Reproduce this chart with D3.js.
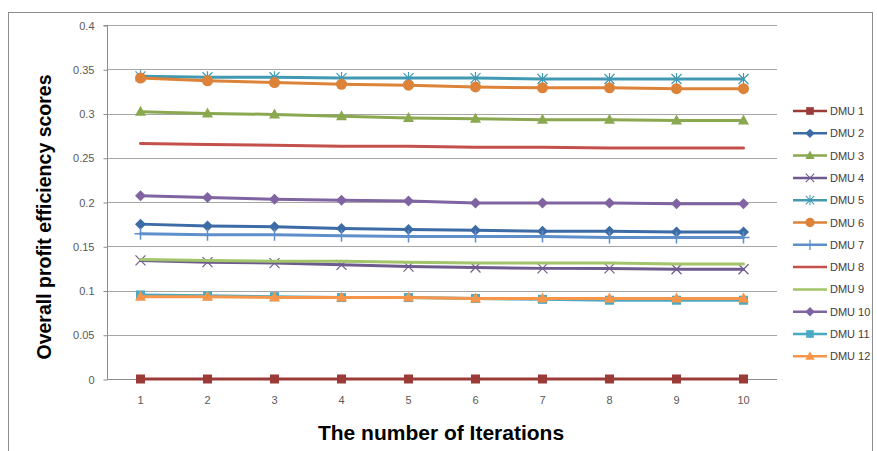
<!DOCTYPE html>
<html><head><meta charset="utf-8">
<script src="https://cdn.jsdelivr.net/npm/d3@7"></script>
<style>body{margin:0;background:#fff;}svg{display:block;}</style>
</head><body>
<svg id="c" width="877" height="451"></svg>
<script>
const iterations = [1,2,3,4,5,6,7,8,9,10];
const yTicks = [0,0.05,0.1,0.15,0.2,0.25,0.3,0.35,0.4];
const seriesNames = ["DMU 1","DMU 2","DMU 3","DMU 4","DMU 5","DMU 6","DMU 7","DMU 8","DMU 9","DMU 10","DMU 11","DMU 12"];
const dmu1  = [0,0,0,0,0,0,0,0,0,0];
const dmu2  = [0.175,0.173,0.172,0.170,0.169,0.168,0.167,0.167,0.166,0.166];
const dmu3  = [0.302,0.300,0.299,0.297,0.295,0.294,0.293,0.293,0.292,0.292];
const dmu4  = [0.134,0.132,0.131,0.129,0.127,0.126,0.125,0.125,0.124,0.124];
const dmu5  = [0.342,0.341,0.341,0.340,0.340,0.340,0.339,0.339,0.339,0.339];
const dmu6  = [0.340,0.337,0.335,0.333,0.332,0.330,0.329,0.329,0.328,0.328];
const dmu7  = [0.164,0.163,0.163,0.162,0.161,0.161,0.161,0.160,0.160,0.160];
const dmu8  = [0.266,0.265,0.264,0.263,0.263,0.262,0.262,0.261,0.261,0.261];
const dmu9  = [0.135,0.134,0.133,0.133,0.132,0.131,0.131,0.131,0.130,0.130];
const dmu10 = [0.207,0.205,0.203,0.202,0.201,0.199,0.199,0.199,0.198,0.198];
const dmu11 = [0.095,0.094,0.093,0.092,0.092,0.091,0.090,0.089,0.089,0.089];
const dmu12 = [0.093,0.093,0.092,0.092,0.092,0.091,0.091,0.091,0.091,0.091];
const allValues = [dmu1,dmu2,dmu3,dmu4,dmu5,dmu6,dmu7,dmu8,dmu9,dmu10,dmu11,dmu12];

const styles = [
  {color:"#9B3B38", marker:"square"},
  {color:"#3D6BA5", marker:"diamond"},
  {color:"#8AA84F", marker:"triangle"},
  {color:"#6F5A8E", marker:"x"},
  {color:"#4199B2", marker:"asterisk"},
  {color:"#DD8339", marker:"circle"},
  {color:"#5F8FCB", marker:"plus"},
  {color:"#C4504C", marker:"none"},
  {color:"#A2C46A", marker:"none"},
  {color:"#8064A2", marker:"diamond"},
  {color:"#4AAAC4", marker:"square"},
  {color:"#F7964A", marker:"triangle"}
];

const svg = d3.select("#c");
const L = 107, R = 777, T = 25, B = 379;
const x = d3.scaleBand().domain(iterations).range([L, R]);
const y = d3.scaleLinear().domain([0, 0.4]).range([B, T]);

// outer frame
svg.append("rect").attr("x",8.5).attr("y",12.5).attr("width",864).attr("height",460)
  .attr("fill","none").attr("stroke","#8C8C8C").attr("stroke-width",1);

// gridlines
svg.append("g").selectAll("line").data(yTicks.filter(d=>d>0)).join("line")
  .attr("x1",L).attr("x2",R).attr("y1",d=>Math.round(y(d))+0.5).attr("y2",d=>Math.round(y(d))+0.5)
  .attr("stroke","#A6A6A6").attr("stroke-width",1);

// y axis
const yAxis = d3.axisLeft(y).tickValues(yTicks).tickSize(4).tickPadding(9).tickFormat(d=>String(+d.toFixed(2)));
const gy = svg.append("g").attr("transform",`translate(${L+0.5},0.5)`).call(yAxis);
gy.select(".domain").attr("stroke","#8C8C8C").attr("d",`M-4,${y(0.4)}H0V${B}`);
gy.selectAll(".tick line").attr("stroke","#8C8C8C");
gy.selectAll("text").attr("fill","#595959").style("font-family","'Liberation Sans',Arial,sans-serif").style("font-size","11px");

// x axis
const xAxis = d3.axisBottom(x).tickSize(0).tickPadding(17);
const gx = svg.append("g").attr("transform",`translate(0,${B+0.5})`).call(xAxis);
gx.select(".domain").attr("stroke","#8C8C8C").attr("d",`M${L},0H${R}`);
gx.selectAll("text").attr("fill","#595959").style("font-family","'Liberation Sans',Arial,sans-serif").style("font-size","11px");

// axis titles
svg.append("text").attr("transform","translate(51,217) rotate(-90)")
  .attr("text-anchor","middle").style("font-family","'Liberation Sans',Arial,sans-serif")
  .style("font-weight","bold").style("font-size","19.5px").attr("fill","#000")
  .text("Overall profit efficiency scores");
svg.append("text").attr("x",441).attr("y",440).attr("text-anchor","middle")
  .style("font-family","'Liberation Sans',Arial,sans-serif").style("font-weight","bold")
  .style("font-size","21px").attr("fill","#000").text("The number of Iterations");

function drawMarker(g, type, color){
  switch(type){
    case "square": g.append("rect").attr("x",-4.5).attr("y",-4.5).attr("width",9).attr("height",9).attr("fill",color); break;
    case "diamond": g.append("path").attr("d","M0,-5.5L5.5,0L0,5.5L-5.5,0Z").attr("fill",color); break;
    case "triangle": g.append("path").attr("d","M0,-6L5.5,4L-5.5,4Z").attr("fill",color); break;
    case "circle": g.append("circle").attr("r",5.5).attr("fill",color); break;
    case "x": g.append("path").attr("d","M-5,-5L5,5M-5,5L5,-5").attr("stroke",color).attr("stroke-width",1.2).attr("fill","none"); break;
    case "asterisk": g.append("path").attr("d","M-5,-5L5,5M-5,5L5,-5M0,-6V6").attr("stroke",color).attr("stroke-width",1.2).attr("fill","none"); break;
    case "plus": g.append("path").attr("d","M0,-6V6M-6,0H6").attr("stroke",color).attr("stroke-width",1.5).attr("fill","none"); break;
  }
}

const line = d3.line().x((d,i)=>x(iterations[i])+x.bandwidth()/2).y(d=>y(d));
allValues.forEach((vals,si)=>{
  const st = styles[si];
  const g = svg.append("g");
  g.append("path").attr("d",line(vals)).attr("fill","none").attr("stroke",st.color)
    .attr("stroke-width",3).attr("stroke-linejoin","round").attr("stroke-linecap","round");
  vals.forEach((v,i)=>{
    const mg = g.append("g").attr("transform",`translate(${x(iterations[i])+x.bandwidth()/2},${y(v)})`);
    drawMarker(mg, st.marker, st.color);
  });
});

// legend
const lg = svg.append("g");
seriesNames.forEach((name,i)=>{
  const st = styles[i];
  const ly = 111 + i*22.3;
  const g = lg.append("g").attr("transform",`translate(0,${ly})`);
  g.append("line").attr("x1",793).attr("x2",827).attr("stroke",st.color).attr("stroke-width",2.5);
  const mg = g.append("g").attr("transform","translate(810,0) scale(0.85)");
  drawMarker(mg, st.marker, st.color);
  g.append("text").attr("x",830).attr("y",4).attr("fill","#404040")
    .style("font-family","'Liberation Sans',Arial,sans-serif").style("font-size","11px").text(name);
});
</script>
</body></html>
